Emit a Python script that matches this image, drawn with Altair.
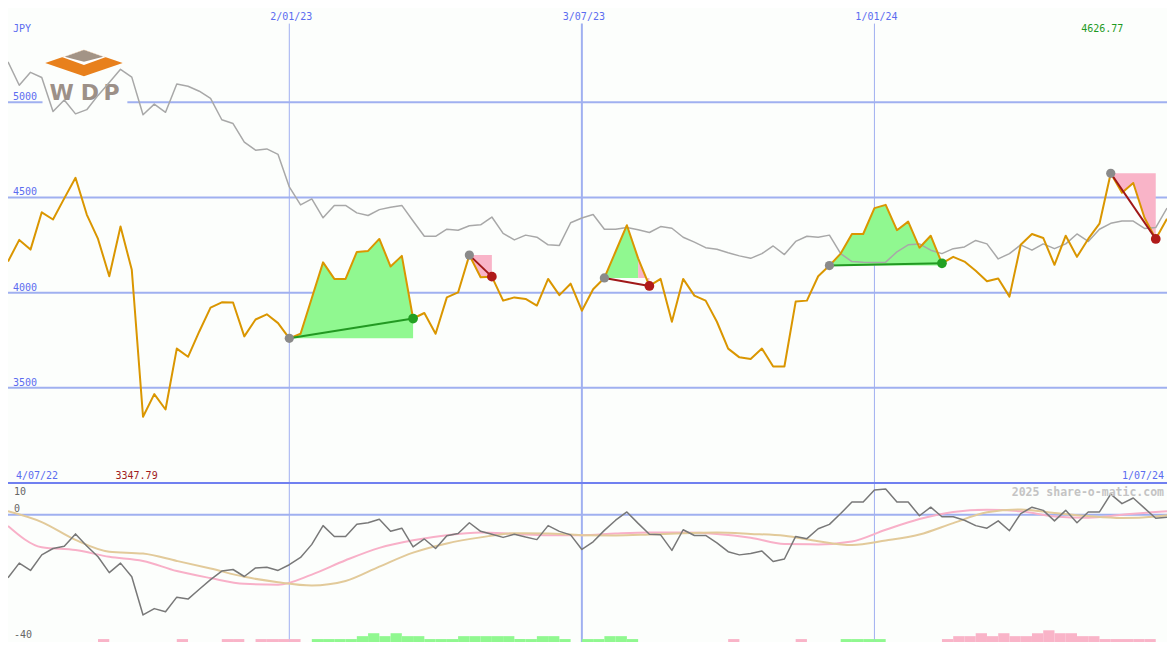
import altair as alt
import pandas as pd

# ---------------- data ----------------
first_week = "2022-07-11"
n_points = 104

close = [4163, 4277, 4226, 4422, 4384, 4495, 4603, 4410, 4282, 4086,
         4347, 4120, 3347.79, 3467, 3386, 3706, 3663, 3796, 3921, 3949,
         3948, 3770, 3859, 3886, 3840, 3760, 3784, 3972, 4159, 4072,
         4072, 4214, 4219, 4282, 4137, 4193, 3864, 3893, 3784, 3975,
         4001, 4197, 4081, 4084, 3958, 3975, 3967, 3932, 4072, 3987,
         4047, 3905, 4018, 4077, 4216, 4354, 4180, 4035, 4072, 3847,
         4072, 3984, 3958, 3847, 3706, 3660, 3651, 3706, 3612, 3612,
         3953, 3958, 4086, 4142, 4205, 4308, 4308, 4444, 4461, 4328,
         4373, 4236, 4299, 4154, 4188, 4163, 4115, 4060, 4074, 3979,
         4251, 4308, 4287, 4146, 4299, 4188, 4282, 4362, 4626.77, 4525,
         4576, 4393, 4282, 4388]

ma = [5212, 5089, 5157, 5130, 4951, 5012, 4939, 4961, 5036, 5104,
      5173, 5132, 4934, 4990, 4947, 5096, 5084, 5058, 5020, 4908,
      4888, 4791, 4748, 4755, 4726, 4555, 4461, 4492, 4393, 4458,
      4458, 4419, 4405, 4436, 4449, 4458, 4376, 4296, 4296, 4333,
      4328, 4351, 4356, 4397, 4311, 4277, 4302, 4291, 4251, 4248,
      4367, 4392, 4410, 4333, 4333, 4342, 4330, 4316, 4347, 4338,
      4291, 4265, 4236, 4228, 4209, 4193, 4180, 4205, 4245, 4200,
      4269, 4296, 4291, 4302, 4205, 4163, 4159, 4158, 4160, 4214,
      4251, 4256, 4223, 4205, 4231, 4240, 4274, 4256, 4177, 4205,
      4251, 4223, 4256, 4231, 4256, 4308, 4269, 4333, 4364, 4376,
      4376, 4337, 4342, 4444]

osc = [-19.8, -15.2, -17.5, -12.6, -10.6, -9.9, -6.0, -9.8, -13.2, -18.2,
       -15.2, -19.5, -31.5, -29.5, -30.5, -25.9, -26.5, -23.4, -20.4, -17.7,
       -17.2, -19.4, -16.7, -16.5, -17.5, -15.7, -13.4, -9.3, -3.4, -6.8,
       -6.8, -3.0, -2.5, -1.4, -5.2, -4.2, -10.1, -7.6, -10.6, -6.6,
       -5.9, -2.5, -5.2, -6.1, -7.1, -6.1, -7.0, -7.8, -3.4, -5.2,
       -6.3, -10.9, -8.5, -4.9, -1.7, 0.9, -2.7, -6.1, -6.3, -11.2,
       -4.7, -6.5, -6.5, -8.8, -11.6, -12.6, -12.2, -11.4, -14.7, -13.9,
       -6.8, -7.5, -4.4, -3.0, 0.4, 4.0, 4.0, 7.8, 8.1, 4.0,
       4.0, -0.3, 2.4, -0.6, -0.6, -1.7, -3.4, -4.2, -1.9, -5.0,
       0.4, 2.4, 1.4, -1.9, 1.4, -2.5, 0.9, 0.9, 6.5, 3.5,
       5.3, 2.1, -1.1, -0.8]

# smooth signal lines, read every third week
sig_idx = [0, 3, 6, 9, 12, 15, 18, 21, 24, 27, 30, 33, 36, 39, 42, 45, 48, 51,
           54, 57, 60, 63, 66, 69, 72, 75, 78, 81, 84, 87, 90, 93, 96, 99, 102, 103]
sig_pink = [-3.5, -10.2, -11.1, -13.2, -14.5, -17.7, -19.9, -21.7, -22.0, -18.8,
            -14.3, -10.4, -8.0, -6.4, -5.6, -6.0, -6.4, -6.4, -5.9, -5.6,
            -5.6, -6.0, -7.2, -9.2, -9.3, -8.4, -4.7, -1.3, 0.9, 1.6,
            1.1, -0.5, -0.9, 0.0, 0.9, 1.1]
sig_tan = [1.1, -2.3, -7.9, -11.6, -12.2, -14.5, -16.9, -19.5, -21.2, -22.2,
           -20.8, -16.3, -11.9, -9.0, -7.1, -5.8, -5.9, -6.4, -6.5, -6.2,
           -5.8, -5.6, -6.0, -6.6, -8.3, -9.5, -8.1, -6.2, -2.6, 0.8,
           1.7, 0.6, -0.4, -1.0, -0.5, -0.1]

# weekly histogram blocks (positive = green, negative = pink)
hist = [0, 0, 0, 0, 0, 0, 0, 0, -1, 0,
        0, 0, 0, 0, 0, -1, 0, 0, 0, -1,
        -1, 0, -1, -1, -1, -1, 0, 1, 1, 1,
        1, 2, 3, 2, 3, 2, 2, 1, 1, 1,
        2, 2, 2, 2, 2, 1, 1, 2, 2, 1,
        0, 1, 1, 2, 2, 1, 0, 0, 0, 0,
        0, 0, 0, 0, -1, 0, 0, 0, 0, 0,
        -1, 0, 0, 0, 1, 1, 1, 1, 0, 0,
        0, 0, 0, -1, -2, -2, -3, -2, -3, -2,
        -2, -3, -4, -3, -3, -2, -2, -1, -1, -1,
        -1, -1, 0]

vline_dates = ["2023-01-02", "2023-07-03", "2024-01-01"]
vline_labels = ["2/01/23", "3/07/23", "1/01/24"]
ytick_values = [5000, 4500, 4000, 3500]

# chart patterns (week index of start / end)
pat_start = [25, 41, 53, 73, 98]
pat_end = [36, 43, 57, 83, 102]
pat_kind = ["up", "down", "down", "up", "down"]
fill_pat = [0, 1, 2, 2, 3, 4]
fill_from = [25, 41, 53, 56, 73, 98]
fill_to = [36, 43, 56, 57, 83, 102]
fill_kind = ["up", "down", "up", "down", "up", "down"]

# ---------------- tables ----------------
dates = [str(d.date()) for d in pd.date_range(first_week, periods=n_points, freq="7D")]
main = pd.DataFrame({"date": dates, "close": close, "ma": ma, "osc": osc})
sig = pd.DataFrame({"date": [dates[i] for i in sig_idx], "pink": sig_pink, "tan": sig_tan})
bars = pd.DataFrame({"date": dates[:-1], "date2": dates[1:], "h": hist})
bars = bars[bars["h"] != 0].copy()
bars["lvl"] = bars["h"].abs()
bars["zero"] = 0
vl = pd.DataFrame({"date": vline_dates, "label": vline_labels})
yt = pd.DataFrame({"v": ytick_values})

rows = []
for p, (a, b, kind) in enumerate(zip(fill_from, fill_to, fill_kind)):
    base = close[pat_start[fill_pat[p]]]
    for i in range(a, b + 1):
        rows.append({"date": dates[i], "v": close[i], "base": base, "piece": p, "kind": kind})
fills = pd.DataFrame(rows)
pat = pd.DataFrame({
    "date": [dates[i] for i in pat_start], "date2": [dates[i] for i in pat_end],
    "v": [close[i] for i in pat_start], "v2": [close[i] for i in pat_end], "kind": pat_kind})

# ---------------- geometry / style ----------------
W, H = 1159, 634
SX, SY = W / 1175, H / 650
BG = "#fcfefc"
GRID = "#a0b0f0"
BLUE = "#5b6cf0"
MONO = "DejaVu Sans Mono"

XS = alt.Scale(type="utc", domain=[alt.DateTime(year=2022, month=7, date=11, utc=True),
                                   alt.DateTime(year=2024, month=7, date=1, utc=True)])
TOP = alt.Scale(domain=[3000, 5495], range=[487 * SY, 0])
BOT = alt.Scale(domain=[-40, 10], range=[650 * SY, 487 * SY])
BAR = alt.Scale(domain=[0, 4], range=[650 * SY, (650 - 12) * SY])


def xe(field="date"):
    return alt.X(f"{field}:T", scale=XS, axis=None)


def yt_(field, scale=TOP):
    return alt.Y(f"{field}:Q", scale=scale, axis=None)


one = alt.Data(values=[{"k": 0}])


def label(text, x, y, color=BLUE, align="left", size=10, weight="normal", font=MONO):
    return alt.Chart(one).mark_text(
        text=text, align=align, baseline="alphabetic", font=font, fontSize=size,
        fontWeight=weight, color=color).encode(x=alt.value(x * SX), y=alt.value(y * SY))


def shape(path, color, cx=77, cy=56.5):
    return alt.Chart(one).mark_point(
        shape=path, filled=True, size=4 * SX * SY, color=color, opacity=1, strokeWidth=0
    ).encode(x=alt.value(cx * SX), y=alt.value(cy * SY))


layers = []

# vertical date lines
layers.append(alt.Chart(vl).mark_rule(color=GRID).encode(
    x=xe(), y=alt.value(16 * SY), y2=alt.value(650 * SY),
    strokeWidth=alt.condition("datum.label == '3/07/23'", alt.value(2), alt.value(1))))
# horizontal grid (top)
layers.append(alt.Chart(yt).mark_rule(color=GRID, strokeWidth=2).encode(
    y=yt_("v"), x=alt.value(0), x2=alt.value(W)))
# bottom zero line and separator
layers.append(alt.Chart(pd.DataFrame({"v": [0]})).mark_rule(color=GRID, strokeWidth=2).encode(
    y=yt_("v", BOT), x=alt.value(0), x2=alt.value(W)))
layers.append(alt.Chart(pd.DataFrame({"v": [10]})).mark_rule(color="#7080f0", strokeWidth=2).encode(
    y=yt_("v", BOT), x=alt.value(0), x2=alt.value(W)))

# logo
layers.append(alt.Chart(one).mark_rect(color=BG).encode(
    x=alt.value(35 * SX), x2=alt.value(121 * SX), y=alt.value(38 * SY), y2=alt.value(100 * SY)))
layers.append(shape("M-39.5,0L0,-13.5L39.5,0L0,13.5Z", "#e8801c"))
layers.append(shape("M-22.5,-6.3L0,-13.5L22.5,-6.3L0,2Z", "#ffffff"))
layers.append(shape("M-19.7,-6.5L0,-13.3L19.7,-6.5L0,-1.5Z", "#a39486"))
for ch, cx in zip(["W", "D", "P"], [54.5, 83, 105]):
    layers.append(label(ch, cx, 94.5, color="#9c9088", align="center", size=22,
                        weight="bold", font="DejaVu Sans"))

# pattern fills
layers.append(alt.Chart(fills).transform_filter("datum.kind == 'up'").mark_area(
    color="#90f890", opacity=1).encode(x=xe(), y=yt_("v"), y2="base:Q", detail="piece:N"))
layers.append(alt.Chart(fills).transform_filter("datum.kind == 'down'").mark_area(
    color="#f9b4c8", opacity=1).encode(x=xe(), y=yt_("v"), y2="base:Q", detail="piece:N"))

# price lines
layers.append(alt.Chart(main).mark_line(color="#a8a8a8", strokeWidth=1.5, strokeJoin="round").encode(
    x=xe(), y=yt_("ma")))
layers.append(alt.Chart(main).mark_line(color="#da9600", strokeWidth=2, strokeJoin="round").encode(
    x=xe(), y=yt_("close")))

# pattern connectors and dots
layers.append(alt.Chart(pat).mark_rule(strokeWidth=2).encode(
    x=xe(), x2="date2:T", y=yt_("v"), y2="v2:Q",
    color=alt.condition("datum.kind == 'up'", alt.value("#229922"), alt.value("#a01818"))))
layers.append(alt.Chart(pat).mark_point(filled=True, size=85, color="#8a8a8a", opacity=1).encode(
    x=xe(), y=yt_("v")))
layers.append(alt.Chart(pat).mark_point(filled=True, size=95, opacity=1).encode(
    x=xe("date2"), y=yt_("v2"),
    color=alt.condition("datum.kind == 'up'", alt.value("#22a022"), alt.value("#b01a1a"))))

# bottom histogram blocks
layers.append(alt.Chart(bars).mark_rect().encode(
    x=xe(), x2="date2:T", y=yt_("lvl", BAR), y2="zero:Q",
    color=alt.condition("datum.h > 0", alt.value("#90f890"), alt.value("#f9b4c8"))))

# bottom oscillator lines
layers.append(alt.Chart(sig).mark_line(color="#f8b0c8", strokeWidth=2, interpolate="monotone").encode(
    x=xe(), y=yt_("pink", BOT)))
layers.append(alt.Chart(sig).mark_line(color="#e2ca9a", strokeWidth=2, interpolate="monotone").encode(
    x=xe(), y=yt_("tan", BOT)))
layers.append(alt.Chart(main).mark_line(color="#787878", strokeWidth=1.5, strokeJoin="round").encode(
    x=xe(), y=yt_("osc", BOT)))

# texts
layers.append(alt.Chart(vl).mark_text(font=MONO, fontSize=10, color=BLUE, align="center",
                                      baseline="alphabetic", dx=2).encode(
    x=xe(), y=alt.value(12.5 * SY), text="label:N"))
layers.append(alt.Chart(yt).mark_text(font=MONO, fontSize=10, color=BLUE, align="left",
                                      baseline="alphabetic", dy=-2).encode(
    x=alt.value(5 * SX), y=yt_("v"), text=alt.Text("v:Q", format="d")))
layers.append(label("JPY", 5, 25))
layers.append(label(f"{max(close):.2f}", 1088, 25, color="#1e9a1e"))
layers.append(label("4/07/22", 8, 483))
layers.append(label(f"{min(close):.2f}", 109, 483, color="#a01c1c"))
layers.append(label("1/07/24", 1172, 483, align="right"))
layers.append(label("10", 6, 499, color="#666666"))
layers.append(label("0", 6, 517, color="#666666"))
layers.append(label("-40", 6, 645.5, color="#666666"))
layers.append(label("2025 share-o-matic.com", 1172, 500.5, color="#c4c4c4", align="right",
                    size=11.5, weight="bold"))

chart = alt.layer(*layers).resolve_scale(y="independent").properties(
    width=W, height=H, padding=0, autosize=alt.AutoSizeParams(type="none")
).configure(background=BG).configure_view(stroke=None)

chart.save("out.html", embed_options={"renderer": "svg", "actions": False})
